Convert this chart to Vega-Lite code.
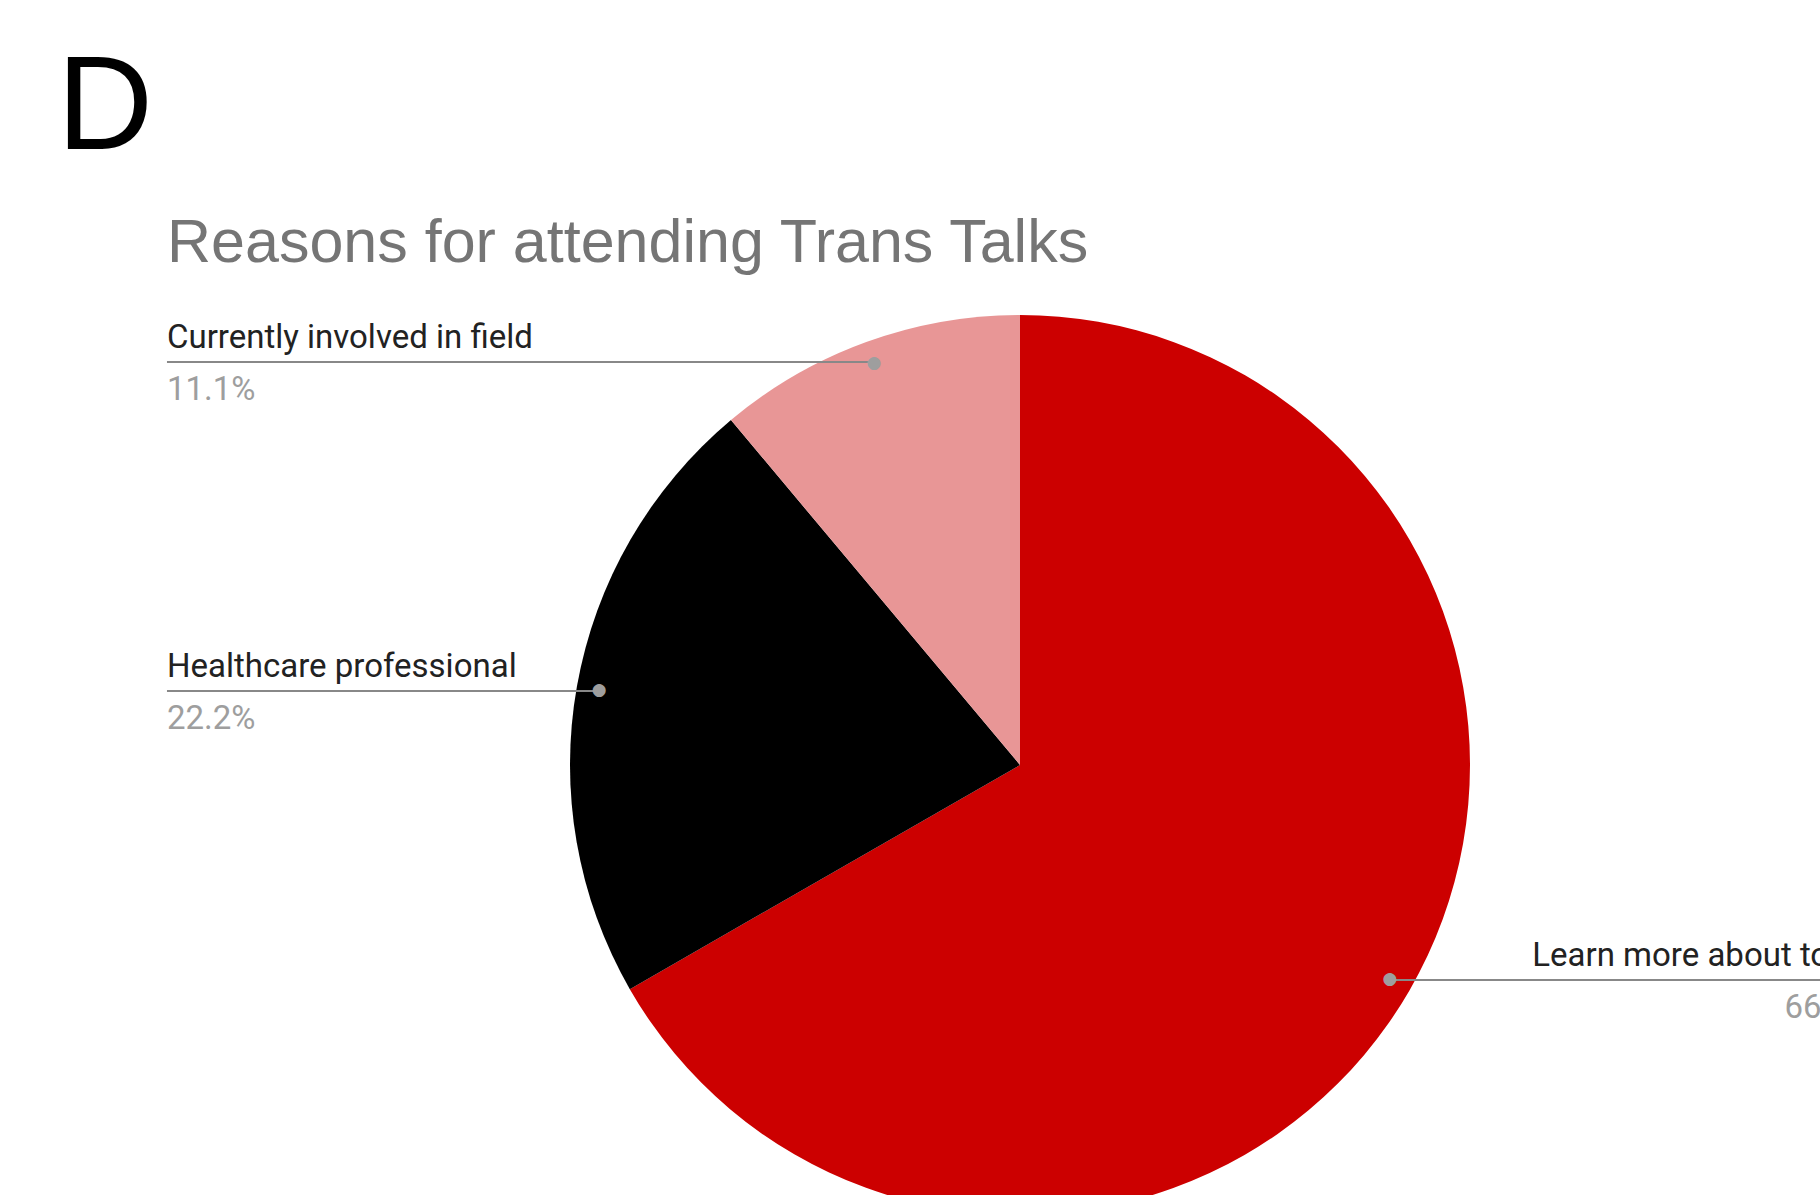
{
  "$schema": "https://vega.github.io/schema/vega-lite/v6.json",
  "width": 900,
  "height": 860,
  "autosize": {"type": "none"},
  "padding": {"left": 570, "top": 335, "right": 350, "bottom": 0},
  "background": "white",
  "config": {"view": {"stroke": null}},
  "data": {
    "values": [
      {"reason": "Learn more about topic", "share": 66.7, "pct": "66.7%"},
      {"reason": "Healthcare professional", "share": 22.2, "pct": "22.2%"},
      {"reason": "Currently involved in field", "share": 11.1, "pct": "11.1%"}
    ]
  },
  "layer": [
    {
      "mark": {"type": "arc", "outerRadius": 450},
      "encoding": {
        "theta": {"field": "share", "type": "quantitative", "stack": true},
        "order": {"field": "share", "type": "quantitative", "sort": "descending"},
        "color": {
          "field": "reason",
          "type": "nominal",
          "scale": {
            "domain": ["Learn more about topic", "Healthcare professional", "Currently involved in field"],
            "range": ["#cc0000", "#000000", "#e89696"]
          },
          "legend": null
        }
      }
    },
    {
      "data": {"values": [{"panel": "D"}]},
      "mark": {"type": "text", "align": "left", "baseline": "alphabetic", "font": "Liberation Sans", "fontSize": 133, "color": "#000000"},
      "encoding": {
        "x": {"datum": -2.14, "type": "quantitative", "scale": {"domain": [-1, 1], "nice": false, "zero": false}, "axis": null},
        "y": {"datum": 1.3689, "type": "quantitative", "scale": {"domain": [-0.95556, 0.95556], "nice": false, "zero": false}, "axis": null},
        "text": {"field": "panel", "type": "nominal"}
      }
    },
    {
      "data": {"values": [{"heading": "Reasons for attending Trans Talks"}]},
      "mark": {"type": "text", "align": "left", "baseline": "alphabetic", "font": "Liberation Sans", "fontSize": 61, "color": "#757575"},
      "encoding": {
        "x": {"datum": -1.8956, "type": "quantitative", "scale": {"domain": [-1, 1], "nice": false, "zero": false}, "axis": null},
        "y": {"datum": 1.1178, "type": "quantitative", "scale": {"domain": [-0.95556, 0.95556], "nice": false, "zero": false}, "axis": null},
        "text": {"field": "heading", "type": "nominal"}
      }
    },
    {
      "transform": [{"filter": {"field": "reason", "equal": "Currently involved in field"}}],
      "encoding": {
        "y": {"datum": 0.8956, "type": "quantitative", "scale": {"domain": [-0.95556, 0.95556], "nice": false, "zero": false}, "axis": null}
      },
      "layer": [
        {
          "mark": {"type": "rule", "color": "#888888", "strokeWidth": 2},
          "encoding": {
            "x": {"datum": -1.8956, "type": "quantitative", "scale": {"domain": [-1, 1], "nice": false, "zero": false}, "axis": null},
            "x2": {"datum": -0.3222}
          }
        },
        {
          "mark": {"type": "text", "align": "left", "baseline": "alphabetic", "dy": -14, "font": "Roboto", "fontSize": 33, "color": "#222222"},
          "encoding": {
            "x": {"datum": -1.8956, "type": "quantitative", "scale": {"domain": [-1, 1], "nice": false, "zero": false}, "axis": null},
            "text": {"field": "reason", "type": "nominal"}
          }
        },
        {
          "mark": {"type": "text", "align": "left", "baseline": "alphabetic", "dy": 38, "font": "Roboto", "fontSize": 33, "color": "#9e9e9e"},
          "encoding": {
            "x": {"datum": -1.8956, "type": "quantitative", "scale": {"domain": [-1, 1], "nice": false, "zero": false}, "axis": null},
            "text": {"field": "pct", "type": "nominal"}
          }
        }
      ]
    },
    {
      "transform": [{"filter": {"field": "reason", "equal": "Healthcare professional"}}],
      "encoding": {
        "y": {"datum": 0.1644, "type": "quantitative", "scale": {"domain": [-0.95556, 0.95556], "nice": false, "zero": false}, "axis": null}
      },
      "layer": [
        {
          "mark": {"type": "rule", "color": "#888888", "strokeWidth": 2},
          "encoding": {
            "x": {"datum": -1.8956, "type": "quantitative", "scale": {"domain": [-1, 1], "nice": false, "zero": false}, "axis": null},
            "x2": {"datum": -0.9356}
          }
        },
        {
          "mark": {"type": "text", "align": "left", "baseline": "alphabetic", "dy": -14, "font": "Roboto", "fontSize": 33, "color": "#222222"},
          "encoding": {
            "x": {"datum": -1.8956, "type": "quantitative", "scale": {"domain": [-1, 1], "nice": false, "zero": false}, "axis": null},
            "text": {"field": "reason", "type": "nominal"}
          }
        },
        {
          "mark": {"type": "text", "align": "left", "baseline": "alphabetic", "dy": 38, "font": "Roboto", "fontSize": 33, "color": "#9e9e9e"},
          "encoding": {
            "x": {"datum": -1.8956, "type": "quantitative", "scale": {"domain": [-1, 1], "nice": false, "zero": false}, "axis": null},
            "text": {"field": "pct", "type": "nominal"}
          }
        }
      ]
    },
    {
      "transform": [{"filter": {"field": "reason", "equal": "Learn more about topic"}}],
      "encoding": {
        "y": {"datum": -0.4778, "type": "quantitative", "scale": {"domain": [-0.95556, 0.95556], "nice": false, "zero": false}, "axis": null}
      },
      "layer": [
        {
          "mark": {"type": "rule", "color": "#888888", "strokeWidth": 2},
          "encoding": {
            "x": {"datum": 0.8267, "type": "quantitative", "scale": {"domain": [-1, 1], "nice": false, "zero": false}, "axis": null},
            "x2": {"datum": 1.8956}
          }
        },
        {
          "mark": {"type": "text", "align": "right", "baseline": "alphabetic", "dy": -14, "font": "Roboto", "fontSize": 33, "color": "#222222"},
          "encoding": {
            "x": {"datum": 1.8956, "type": "quantitative", "scale": {"domain": [-1, 1], "nice": false, "zero": false}, "axis": null},
            "text": {"field": "reason", "type": "nominal"}
          }
        },
        {
          "mark": {"type": "text", "align": "right", "baseline": "alphabetic", "dy": 38, "font": "Roboto", "fontSize": 33, "color": "#9e9e9e"},
          "encoding": {
            "x": {"datum": 1.8956, "type": "quantitative", "scale": {"domain": [-1, 1], "nice": false, "zero": false}, "axis": null},
            "text": {"field": "pct", "type": "nominal"}
          }
        }
      ]
    },
    {
      "mark": {"type": "text", "radius": 427.5, "text": "●", "font": "DejaVu Sans", "fontSize": 17, "color": "#9e9e9e", "align": "center", "baseline": "middle"},
      "encoding": {
        "theta": {"field": "share", "type": "quantitative", "stack": true},
        "order": {"field": "share", "type": "quantitative", "sort": "descending"}
      }
    }
  ]
}
